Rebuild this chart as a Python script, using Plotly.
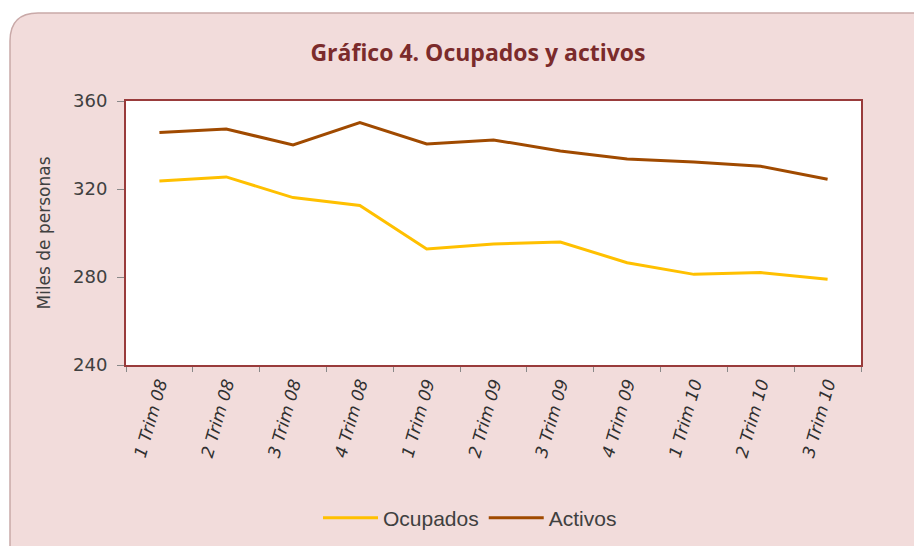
import plotly.graph_objects as go

categories = ["1 Trim 08", "2 Trim 08", "3 Trim 08", "4 Trim 08",
              "1 Trim 09", "2 Trim 09", "3 Trim 09", "4 Trim 09",
              "1 Trim 10", "2 Trim 10", "3 Trim 10"]
ocupados = [323.6, 325.5, 316.1, 312.5, 292.7, 295.0, 295.9, 286.5, 281.2, 282.0, 279.0]
activos = [345.7, 347.3, 340.0, 350.2, 340.5, 342.3, 337.3, 333.6, 332.3, 330.3, 324.4]
y_ticks = [240, 280, 320, 360]

W, H = 914, 546
ML, MR, MT, MB = 126, 53, 101, 181
PW, PH = W - ML - MR, H - MT - MB


def px(x):
    return (x - ML) / PW


def py(y):
    return (H - MB - y) / PH


fig = go.Figure()
fig.add_trace(go.Scatter(x=categories, y=ocupados, mode="lines", name="Ocupados",
                         line=dict(color="#FFC000", width=3)))
fig.add_trace(go.Scatter(x=categories, y=activos, mode="lines", name="Activos",
                         line=dict(color="#A04A00", width=3)))

# rounded card background
x0, y0, x1, y1, r = 10, 13, 940, 570, 28
path = (f"M {px(x0)},{py(y0 + r)} "
        f"Q {px(x0)},{py(y0)} {px(x0 + r)},{py(y0)} "
        f"L {px(x1 - r)},{py(y0)} "
        f"Q {px(x1)},{py(y0)} {px(x1)},{py(y0 + r)} "
        f"L {px(x1)},{py(y1)} L {px(x0)},{py(y1)} Z")
fig.add_shape(type="path", path=path, xref="paper", yref="paper",
              fillcolor="#F2DCDB", line=dict(color="#C9A9A8", width=1.5), layer="below")
fig.add_shape(type="rect", xref="paper", yref="paper", x0=0, y0=0, x1=1, y1=1,
              fillcolor="white", line=dict(width=0), layer="below")

fig.update_layout(
    width=W, height=H,
    margin=dict(l=ML, r=MR, t=MT, b=MB),
    paper_bgcolor="white",
    plot_bgcolor="rgba(0,0,0,0)",
    title=dict(text="<b>Gráfico 4. Ocupados y activos</b>", x=478 / W, xanchor="center",
               y=1 - 53 / H, yanchor="middle",
               font=dict(family="Open Sans", size=23, color="#7B2B2B")),
    showlegend=True,
    legend=dict(orientation="h", x=470 / W, xref="container", xanchor="center",
                y=1 - 518 / H, yref="container", yanchor="middle",
                font=dict(family="Liberation Sans", size=21, color="#404040"),
                bgcolor="rgba(0,0,0,0)", itemwidth=55),
    xaxis=dict(type="category", range=[-0.5, 10.5], showgrid=False,
               showline=True, linecolor="#993B3B", linewidth=2, mirror=True,
               ticks="outside", tickson="boundaries", ticklen=5, tickcolor="#888888",
               tickangle=-74,
               tickfont=dict(family="DejaVu Sans", size=17, color="#303030", style="italic")),
    yaxis=dict(range=[240, 360], tickvals=y_ticks, showgrid=False,
               showline=True, linecolor="#993B3B", linewidth=2, mirror=True,
               ticks="outside", ticklen=7, tickcolor="#888888", ticklabelstandoff=6,
               tickfont=dict(family="DejaVu Sans", size=18, color="#404040"),
               title=dict(text="Miles de personas", standoff=18,
                          font=dict(family="DejaVu Sans", size=17, color="#404040"))),
)

fig.write_html("out.html", config={"displayModeBar": False},
               post_script="document.body.style.margin='0';")
